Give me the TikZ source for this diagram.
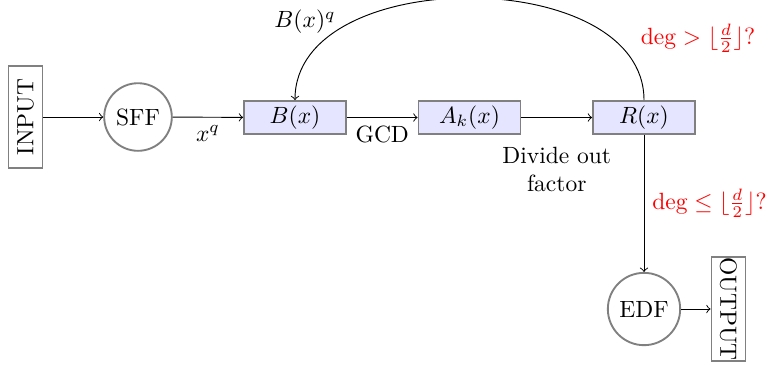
\documentclass[tikz,border=0pt]{standalone}
\usetikzlibrary{positioning}
\begin{document}
\begin{tikzpicture}[x=0.4255pt,y=-0.4255pt,
  blockbox/.style={draw=gray,thick,fill=blue!10,rectangle,inner sep=0pt,minimum width=43.4pt,minimum height=14pt},
  roundbox/.style={draw=gray,thick,circle},
  iobox/.style={draw=gray,thick,rectangle,inner sep=0pt,minimum width=43.4pt,minimum height=14.5pt},
  redlabel/.style={text=red},
  conn/.style={->}]
\useasboundingbox (0,0) rectangle (774,369);
\node[iobox,rotate=90] (in) at (25.5,117) {INPUT};
\node[roundbox] (sff) at (138,117) {SFF};
\node[blockbox] (b) at (295,117.5) {$B(x)$};
\node[blockbox] (a) at (469.5,117.5) {$A_k(x)$};
\node[blockbox] (r) at (644,117.5) {$R(x)$};
\node[roundbox] (edf) at (644,309) {EDF};
\node[iobox,rotate=-90] (out) at (728.5,309) {OUTPUT};
\draw[conn] (in) -- (sff);
\draw[conn] (sff) -- node[below] {$x^q$} (b);
\draw[conn] (b) -- node[below] {GCD} (a);
\draw[conn] (a) -- node[below=9pt,align=center] {Divide out\\factor} (r);
\draw[conn] (r.south) -- node[right,redlabel] {$\deg\leq\lfloor\frac{d}{2}\rfloor$?} (edf.north);
\draw[conn] (edf) -- (out);
\draw[conn] (r.north) to[out=90,in=90] (b.north);
\node (bq) at (305,22) {$B(x)^q$};
\node[redlabel] (gt) at (698,38) {$\deg>\lfloor\frac{d}{2}\rfloor$?};
\end{tikzpicture}
\end{document}
